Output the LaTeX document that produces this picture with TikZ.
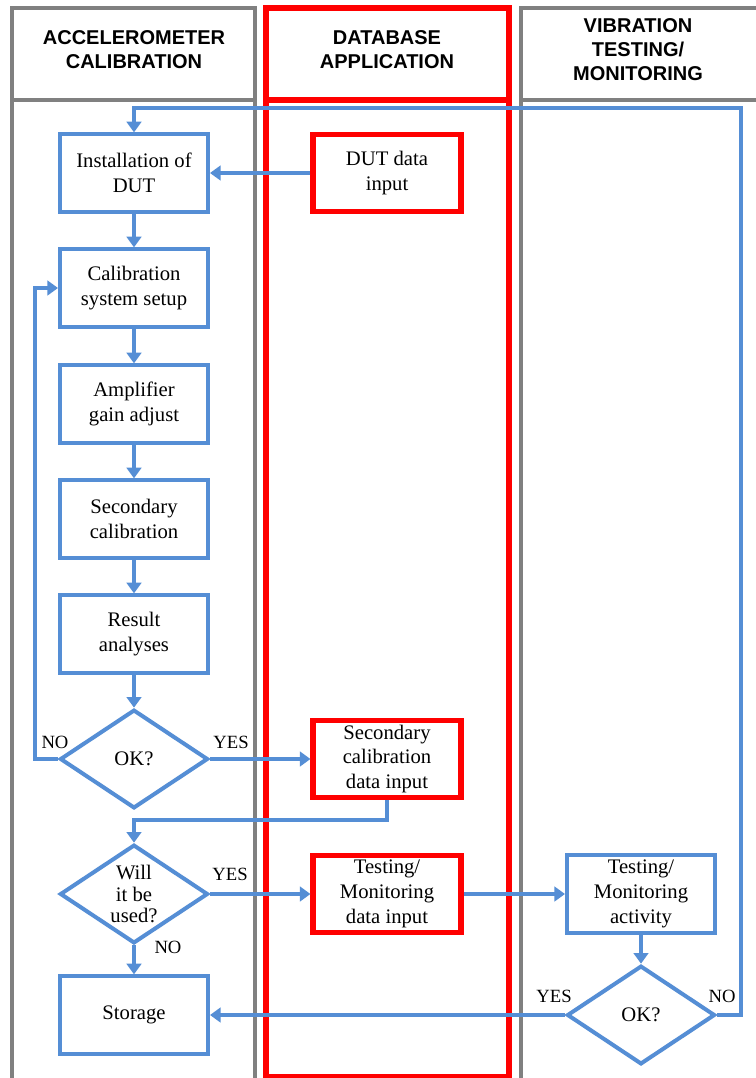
\documentclass[tikz,border=0pt]{standalone}
\usepackage{fontspec}
\setmainfont{Liberation Serif}
\newfontfamily\headfont{Liberation Sans}
\usetikzlibrary{shapes.geometric,arrows.meta}
\definecolor{flowblue}{RGB}{85,142,213}
\definecolor{lanegray}{RGB}{128,128,128}
\definecolor{dbred}{RGB}{255,0,0}

\begin{document}
\begin{tikzpicture}[x=0.75pt,y=-0.75pt]
	\tikzset{lane/.style={draw=lanegray,line width=3.4pt}}
	\tikzset{dblane/.style={draw=dbred,line width=3.8pt}}
	\tikzset{head/.style={font=\headfont\bfseries\fontsize{15}{18}\selectfont,align=center}}
	\tikzset{task/.style={draw=flowblue,line width=3pt,minimum width=111pt,minimum height=58pt,align=center,font=\fontsize{15.5}{18.5}\selectfont}}
	\tikzset{dbtask/.style={task,draw=dbred,line width=3.8pt}}
	\tikzset{test/.style={diamond,aspect=1.5,draw=flowblue,line width=3pt,minimum width=111pt,minimum height=74pt,inner sep=0pt,align=center,font=\fontsize{15.5}{16}\selectfont}}
	\tikzset{flow/.style={draw=flowblue,line width=2.8pt,-{Triangle[length=8pt,width=11pt]}}}
	\tikzset{answer/.style={font=\fontsize{14}{16}\selectfont}}

	\clip (0,0) rectangle (756,1078);
	\fill[white] (0,0) rectangle (756,1078);

	% swim lanes
	\draw[lane] (12,8) rectangle (255,100);
	\draw[lane] (12,100) rectangle (255,1100);
	\draw[dblane] (266,8) rectangle (509,100);
	\draw[dblane] (266,100) rectangle (509,1077);
	\draw[lane] (521,8) rectangle (790,100);
	\draw[lane] (521,100) rectangle (790,1100);

	\node[head] (calhead) at (134,50) {ACCELEROMETER\\CALIBRATION};
	\node[head] (dbhead) at (387,50) {DATABASE\\APPLICATION};
	\node[head] (vibhead) at (638,50) {VIBRATION\\TESTING/\\MONITORING};

	% accelerometer calibration
	\node[task] (install) at (134,173) {Installation of\\DUT};
	\node[task] (setup) at (134,288) {Calibration\\system setup};
	\node[task] (gain) at (134,404) {Amplifier\\gain adjust};
	\node[task] (seccal) at (134,519) {Secondary\\calibration};
	\node[task] (result) at (134,634) {Result\\analyses};
	\node[test] (calok) at (134,759) {OK?};
	\node[test] (used) at (134,894) {Will\\it be\\used?};
	\node[task] (storage) at (134,1015) {Storage};

	% database application
	\node[dbtask] (dutin) at (387,173) {DUT data\\input};
	\node[dbtask] (secin) at (387,759) {Secondary\\calibration\\data input};
	\node[dbtask] (testin) at (387,894) {Testing/\\Monitoring\\data input};

	% vibration testing
	\node[task] (activity) at (641,894) {Testing/\\Monitoring\\activity};
	\node[test] (testok) at (641,1015) {OK?};
	\coordinate (back) at (741,108);

	\draw[flow] (dutin) -- (install);
	\draw[flow] (install) -- (setup);
	\draw[flow] (setup) -- (gain);
	\draw[flow] (gain) -- (seccal);
	\draw[flow] (seccal) -- (result);
	\draw[flow] (result) -- (calok);
	\draw[flow] (calok.east) -- (secin.west);
	\draw[flow] (calok.west) -- ++(-23,0) |- (setup.west);
	\draw[flow] (secin.south) -- ++(0,20) -| (used.north);
	\draw[flow] (used.east) -- (testin.west);
	\draw[flow] (used.south) -- (storage.north);
	\draw[flow] (testin.east) -- (activity.west);
	\draw[flow] (activity) -- (testok);
	\draw[flow] (testok.west) -- (storage.east);
	\draw[flow] (testok.east) -| (back) -| (install.north);

	\node[answer] (calno) at (55,742) {NO};
	\node[answer] (calyes) at (231,742) {YES};
	\node[answer] (usedyes) at (230,874) {YES};
	\node[answer] (usedno) at (168,947) {NO};
	\node[answer] (testyes) at (554,996) {YES};
	\node[answer] (testno) at (722,996) {NO};
\end{tikzpicture}
\end{document}
